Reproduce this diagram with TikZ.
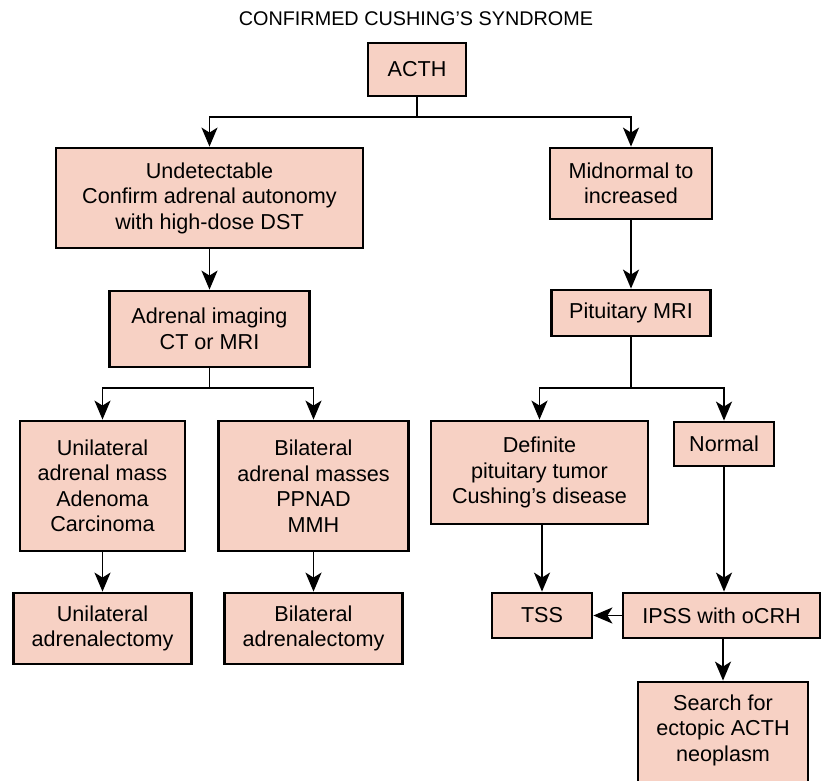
\documentclass[tikz,border=0pt]{standalone}
\usepackage{fontspec}
\setmainfont{Liberation Sans}
\usetikzlibrary{arrows.meta}
\definecolor{boxfill}{RGB}{247,209,196}
\tikzset{
  box/.style={draw=black, fill=boxfill, line width=2.8bp, inner sep=0pt, align=center,
    font=\fontsize{21.6bp}{25.5bp}\selectfont},
  conn/.style={line width=1.9bp},
  arr/.style={conn, -{Stealth[length=19bp,width=16bp,inset=5bp]}},
  titletext/.style={font=\fontsize{19.8bp}{23bp}\selectfont, inner sep=0pt}
}
\begin{document}
\begin{tikzpicture}[x=1bp,y=-1bp]
\clip (0,0) rectangle (824,781);
\useasboundingbox (0,0) rectangle (824,781);

\node[titletext, anchor=base] (title) at (416,26) {CONFIRMED CUSHING’S SYNDROME};

\node[box, minimum width=98bp, minimum height=53bp] (acth) at (417,69.5) {ACTH};
\node[box, minimum width=307bp, minimum height=100bp] (undet) at (209.5,198) {Undetectable\\Confirm adrenal autonomy\\with high-dose DST};
\node[box, minimum width=162bp, minimum height=71bp] (mid) at (631,183.5) {Midnormal to\\increased};
\node[box, minimum width=200bp, minimum height=76bp] (adrimg) at (209.5,329) {Adrenal imaging\\CT or MRI};
\node[box, minimum width=159bp, minimum height=46bp] (pit) at (631,313) {Pituitary MRI};
\node[box, minimum width=165bp, minimum height=130bp] (uni) at (102.5,486) {Unilateral\\adrenal mass\\Adenoma\\Carcinoma};
\node[box, minimum width=190bp, minimum height=130bp] (bi) at (313.5,486) {Bilateral\\adrenal masses\\PPNAD\\MMH};
\node[box, minimum width=217bp, minimum height=103bp] (def) at (539.5,472.5) {Definite\\pituitary tumor\\Cushing’s disease};
\node[box, minimum width=100bp, minimum height=44bp] (normal) at (724,444) {Normal};
\node[box, minimum width=178bp, minimum height=71bp] (uniadx) at (102.5,628.5) {Unilateral\\adrenalectomy};
\node[box, minimum width=178bp, minimum height=71bp] (biadx) at (313.5,628.5) {Bilateral\\adrenalectomy};
\node[box, minimum width=100bp, minimum height=45bp] (tss) at (542,615.5) {TSS};
\node[box, minimum width=197bp, minimum height=45bp] (ipss) at (721.5,615.5) {IPSS with oCRH};
\node[box, minimum width=170bp, minimum height=112bp] (search) at (723,738) {};
\node[box, draw=none, fill=none] (searchtext) at (723,730) {Search for\\ectopic ACTH\\neoplasm};

\coordinate (j1) at (417,117);
\coordinate (j2) at (209.5,388);
\coordinate (j3) at (631,388);

\draw[conn] (acth.south) -- (j1);
\draw[arr] (j1) -| (undet.north);
\draw[arr] (j1) -| (mid.north);
\draw[arr] (undet.south) -- (adrimg.north);
\draw[arr] (mid.south) -- (pit.north);
\draw[conn] (adrimg.south) -- (j2);
\draw[arr] (j2) -| (uni.north);
\draw[arr] (j2) -| (bi.north);
\draw[conn] (pit.south) -- (j3);
\draw[arr] (j3) -| (def.north);
\draw[arr] (j3) -| (normal.north);
\draw[arr] (uni.south) -- (uniadx.north);
\draw[arr] (bi.south) -- (biadx.north);
\draw[arr] (def.south -| tss.north) -- (tss.north);
\draw[arr] (normal.south) -- (normal.south |- ipss.north);
\draw[arr] (ipss.west) -- (tss.east);
\draw[arr] (search.north |- ipss.south) -- (search.north);
\end{tikzpicture}
\end{document}
